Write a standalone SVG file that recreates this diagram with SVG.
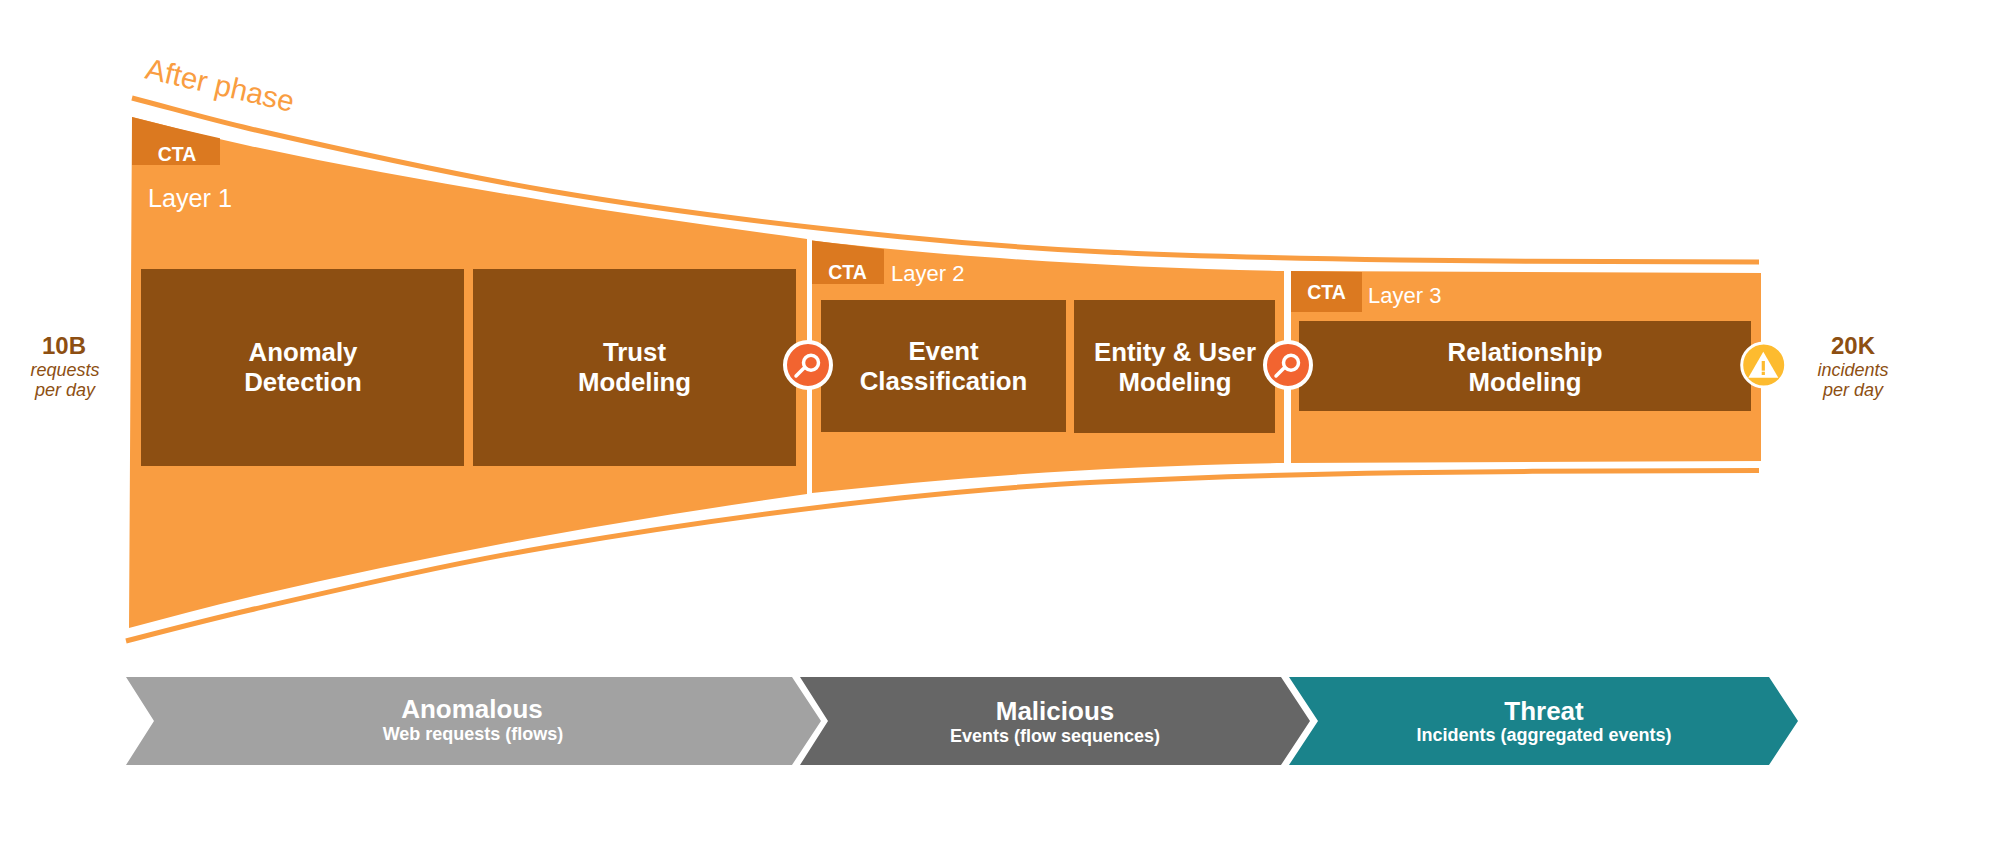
<svg xmlns="http://www.w3.org/2000/svg" width="1994" height="862" viewBox="0 0 1994 862">
<style>
text{font-family:"Liberation Sans",Arial,sans-serif}
.layer{fill:#F99D41}
.cta{fill:#DB7920}
.box{fill:#8D4F12}
.bt{fill:#fff;font-weight:700;font-size:25.8px;text-anchor:middle}
.ctat{fill:#fff;font-weight:700;font-size:19.5px;text-anchor:middle}
.lt{fill:#fff;font-size:22px}
.curve{fill:none;stroke:#F99D41;stroke-width:5}
.big{fill:#8D4F12;font-weight:700;font-size:24px;text-anchor:middle}
.sm{fill:#8D4F12;font-style:italic;font-size:18px;text-anchor:middle}
.at{fill:#fff;font-weight:700;font-size:26px;text-anchor:middle}
.as{fill:#fff;font-weight:700;font-size:18px;text-anchor:middle}
.ring{stroke:#fff;stroke-width:4}
.mag{fill:none;stroke:#fff;stroke-width:3.5}
</style>
<g id="connectors">
<path class="curve" d="M132,98 C171.3,108.2 210.7,119.7 250,128.7 C350,151.7 450,174 550,191 C666.7,210.8 783.3,225 900,236.7 C966.7,243.4 1033.3,248.4 1100,251.7 C1200,256.7 1300,258.5 1400,260 C1519.7,261.8 1639,261.6 1759,262"/>
<path class="curve" d="M126,641 C167.3,630.3 208.7,619.5 250,610 C350,587 450,563.7 550,546.7 C666.7,526.9 783.3,510.3 900,498 C966.7,491 1033.3,485.3 1100,482 C1200,477 1300,474.2 1400,472.7 C1519.7,470.9 1639,470.9 1759,470.5"/>
</g>
<text x="144" y="78" transform="rotate(13 144 78)" font-size="29.6" fill="#F99D41">After phase</text>
<g id="layer1">
<path class="layer" d="M132,117 C171.3,126.8 210.7,137.5 250,146 C347.3,166.9 444.7,184 542,200 C630.3,214.6 718.7,227 807,239 L807,494 C721.3,506.3 635.7,519.6 550,535 C450,553 350,574 250,597 C209.7,606.3 169.3,617.5 129,628 Z"/>
<path class="cta" d="M132,117 C161,124.3 191,132 220,138.2 L220,165 L132,165 Z"/>
<text class="ctat" x="177" y="160.5">CTA</text>
<text class="lt" x="148" y="206.5" style="font-size:25.2px">Layer 1</text>
</g>
<g id="layer2">
<path class="layer" d="M812,240.5 C912,253 1100,268 1284,271 L1284,463 C1100,466 950,478 812,493 Z"/>
<path class="cta" d="M812,240.5 L884,249.3 L884,284 L812,284 Z"/>
<text class="ctat" x="847.5" y="279">CTA</text>
<text class="lt" x="891" y="281">Layer 2</text>
</g>
<g id="layer3">
<path class="layer" d="M1291,271 L1761,273 L1761,461 L1291,463 Z"/>
<path class="cta" d="M1291,271 L1362,272 L1362,312 L1291,312 Z"/>
<text class="ctat" x="1326.5" y="299">CTA</text>
<text class="lt" x="1368" y="303">Layer 3</text>
</g>
<g id="anomaly-detection">
<rect class="box" x="141" y="269" width="323" height="197"/>
<text class="bt" x="303" y="361">Anomaly</text>
<text class="bt" x="303" y="391">Detection</text>
</g>
<g id="trust-modeling">
<rect class="box" x="473" y="269" width="323" height="197"/>
<text class="bt" x="634.5" y="361">Trust</text>
<text class="bt" x="634.5" y="391">Modeling</text>
</g>
<g id="event-classification">
<rect class="box" x="821" y="300" width="245" height="132"/>
<text class="bt" x="943.5" y="360">Event</text>
<text class="bt" x="943.5" y="390">Classification</text>
</g>
<g id="entity-user-modeling">
<rect class="box" x="1074" y="300" width="201" height="133"/>
<text class="bt" x="1175" y="361">Entity &amp; User</text>
<text class="bt" x="1175" y="391">Modeling</text>
</g>
<g id="relationship-modeling">
<rect class="box" x="1299" y="321" width="452" height="90"/>
<text class="bt" x="1525" y="361">Relationship</text>
<text class="bt" x="1525" y="391">Modeling</text>
</g>
<g id="search1">
<circle class="ring" cx="808" cy="365" r="23" fill="#F26430"/>
<circle class="mag" cx="811" cy="362.7" r="7.5"/>
<path class="mag" d="M803.5,368.5 L796,376" stroke-width="4" stroke-linecap="round"/>
</g>
<g id="search2">
<circle class="ring" cx="1288" cy="365" r="23" fill="#F26430"/>
<circle class="mag" cx="1291" cy="362.7" r="7.5"/>
<path class="mag" d="M1283.5,368.5 L1276,376" stroke-width="4" stroke-linecap="round"/>
</g>
<g id="alert">
<circle cx="1763.7" cy="365" r="22" fill="#FDBB2F" stroke="#fff" stroke-width="3"/>
<path d="M1763.3,351.7 L1778.3,377.7 L1748.3,377.7 Z" fill="#fff"/>
<rect x="1761.7" y="361" width="3.2" height="9.7" fill="#FDBB2F"/>
<rect x="1761.7" y="371.7" width="3.2" height="3.3" fill="#FDBB2F"/>
</g>
<g id="input">
<text class="big" x="64" y="354">10B</text>
<text class="sm" x="65" y="376">requests</text>
<text class="sm" x="65" y="396">per day</text>
</g>
<g id="output">
<text class="big" x="1853" y="354">20K</text>
<text class="sm" x="1853" y="376">incidents</text>
<text class="sm" x="1853" y="396">per day</text>
</g>
<g id="anomalous">
<path d="M126,677 L792,677 L821,721 L792,765 L126,765 L154,721 Z" fill="#A2A2A2"/>
<text class="at" x="472" y="718">Anomalous</text>
<text class="as" x="473" y="740">Web requests (flows)</text>
</g>
<g id="malicious">
<path d="M800,677 L1281,677 L1310,721 L1281,765 L800,765 L828,721 Z" fill="#666"/>
<text class="at" x="1055" y="720">Malicious</text>
<text class="as" x="1055" y="741.5">Events (flow sequences)</text>
</g>
<g id="threat">
<path d="M1289,677 L1769,677 L1798,721 L1769,765 L1289,765 L1318,721 Z" fill="#1A838B"/>
<text class="at" x="1544" y="720">Threat</text>
<text class="as" x="1544" y="741">Incidents (aggregated events)</text>
</g>
</svg>
